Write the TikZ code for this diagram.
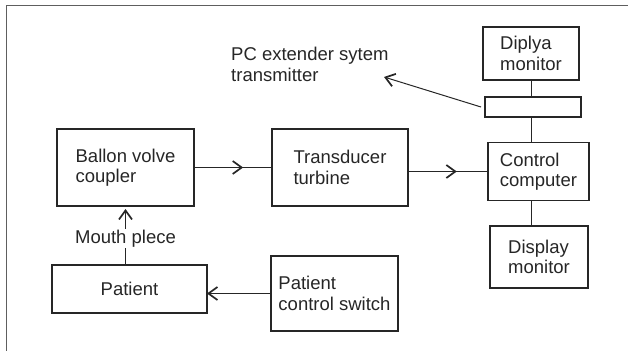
\documentclass[tikz,border=0pt]{standalone}
\usepackage{fontspec}
\setmainfont{Liberation Sans}
\usetikzlibrary{arrows.meta,decorations.markings}
\definecolor{ink}{HTML}{262626}
\definecolor{rulec}{HTML}{5E5E5E}

\begin{document}
\begin{tikzpicture}[
  x=1pt, y=-1pt,
  every node/.style={font=\fontsize{18.5}{20.5}\selectfont, text=ink},
  blk/.style={draw=ink, line width=1.1pt, align=left, inner sep=0pt, outer sep=0pt},
  wire/.style={draw=ink, line width=1pt},
  tip/.style={-{Straight Barb[length=9pt,width=13pt,line width=1.7pt]}},
  midtip/.style={decoration={markings,
    mark=at position #1 with {\arrow{Straight Barb[length=9pt,width=13pt,line width=1.7pt]}}},
    postaction={decorate}},
]
\useasboundingbox (0,0) rectangle (628,351);
% outer frame
\draw[rulec, line width=1pt] (628,5.5) -- (6.5,5.5) -- (6.5,351);
% blocks: name/x/y/width/height/text
\foreach \nm/\x/\y/\w/\h/\txt in {
  coupler/125.5/167.5/137/77/Ballon volve\\coupler,
  turbine/340/167.5/136/77/Transducer\\turbine,
  diplya/531/53.5/96/53/Diplya\\monitor,
  xmit/533/107/96/20/,
  ctrl/538.5/171.5/101/58/Control\\computer,
  dispm/539/257/98/62/Display\\monitor,
  patient/129.5/289/155/48/Patient,
  switch/334.5/293.5/127/75/Patient\\control switch}
  \node[blk, minimum width=\w pt, minimum height=\h pt] (\nm) at (\x,\y) {\txt};
\node[align=left, anchor=west, inner sep=0pt] (pcext) at (231,64.5)
  {PC extender sytem\\transmitter};
\coordinate (pcend) at (384,77);
% connectors
\draw[wire, midtip=0.63] (coupler) -- (turbine);
\draw[wire, midtip=0.61] (turbine.east |- ctrl) -- (ctrl.west);
\draw[wire] (diplya.south) -- (diplya.south |- xmit.north);
\draw[wire] (xmit.south -| diplya) -- (ctrl.north -| diplya);
\draw[wire] (ctrl.south -| diplya) -- (dispm.north -| diplya);
\draw[wire, tip] ([xshift=-4pt]xmit.west) -- (pcend);
\draw[wire, tip] (switch.west) -- (switch.west -| patient.east);
\draw[wire, tip, shorten >=3pt] (patient.north -| coupler) --
  node[pos=0.45, fill=white, inner sep=1pt] (mouth) {Mouth plece} (coupler.south);
\end{tikzpicture}
\end{document}
